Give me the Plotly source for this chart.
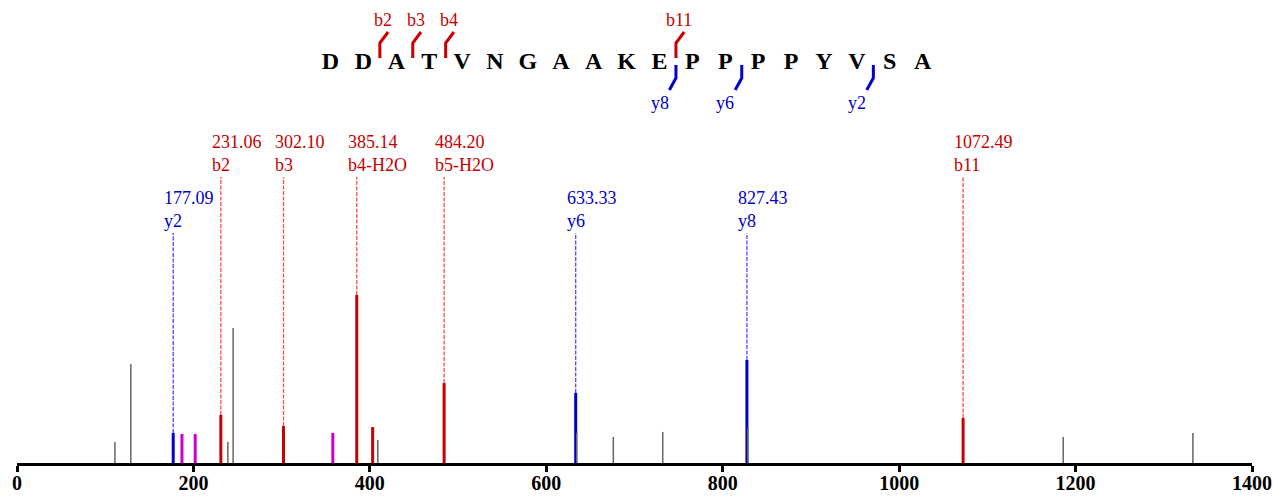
import plotly.graph_objects as go

# ---------------- data ----------------
sequence = list("DDATVNGAAKEPPPPYVSA")

b_mz = [231.06, 302.10, 385.14, 403.15, 484.20, 1072.49]
b_int = [28.6, 22.0, 100.0, 21.4, 47.6, 26.8]
b_lab = ["b2", "b3", "b4-H2O", "", "b5-H2O", "b11"]

y_mz = [177.09, 633.33, 827.43]
y_int = [17.9, 41.7, 61.3]
y_lab = ["y2", "y6", "y8"]

other_mz = [187.0, 202.0, 358.0]
other_int = [17.3, 17.3, 17.9]

noise_mz = [111.0, 129.0, 239.0, 245.0, 409.0, 634.5, 676.0, 732.0, 828.5, 1186.0, 1333.0]
noise_int = [12.5, 58.9, 12.5, 80.4, 13.7, 17.9, 15.5, 18.5, 20.8, 15.5, 17.9]

b_frag = [2, 3, 4, 11]
y_frag = [8, 6, 2]

x_ticks = [0, 200, 400, 600, 800, 1000, 1200, 1400]

# ---------------- style ----------------
RED = "#c80000"
BLUE = "#0000c8"
MAG = "#cc00cc"
GRAY = "#666666"
RED_D = "#ff4a4a"
BLUE_D = "#4a4aff"
FONT = "Liberation Serif, Times New Roman, serif"
Y_MAX = 272.6
B_LEVEL = 170.2
Y_LEVEL = 136.9


def sticks(xs, ys, base=0.0):
    X, Y = [], []
    for x, y in zip(xs, ys):
        X += [x, x, None]
        Y += [base, y, None]
    return X, Y


fig = go.Figure()

# dashed connectors for labelled peaks
X, Y = [], []
for m, i, l in zip(b_mz, b_int, b_lab):
    if l:
        X += [m, m, None]
        Y += [i, B_LEVEL, None]
fig.add_trace(go.Scatter(x=X, y=Y, mode="lines", line=dict(color=RED_D, width=1.3, dash="4px,1.5px"),
                         hoverinfo="skip", showlegend=False))
X, Y = [], []
for m, i in zip(y_mz, y_int):
    X += [m, m, None]
    Y += [i, Y_LEVEL, None]
fig.add_trace(go.Scatter(x=X, y=Y, mode="lines", line=dict(color=BLUE_D, width=1.3, dash="4px,1.5px"),
                         hoverinfo="skip", showlegend=False))

for xs, ys, col, w in [(b_mz, b_int, RED, 3), (y_mz, y_int, BLUE, 3),
                       (other_mz, other_int, MAG, 3), (noise_mz, noise_int, GRAY, 1.5)]:
    X, Y = sticks(xs, ys)
    fig.add_trace(go.Scatter(x=X, y=Y, mode="lines", line=dict(color=col, width=w),
                             hoverinfo="skip", showlegend=False))

annotations = []
for m, l in zip(b_mz, b_lab):
    if l:
        annotations.append(dict(x=m, y=B_LEVEL, xref="x", yref="y", text=f"{m:.2f}<br>{l}",
                                showarrow=False, xanchor="left", yanchor="bottom", align="left",
                                xshift=-11, font=dict(family=FONT, size=18, color=RED)))
for m, l in zip(y_mz, y_lab):
    annotations.append(dict(x=m, y=Y_LEVEL, xref="x", yref="y", text=f"{m:.2f}<br>{l}",
                            showarrow=False, xanchor="left", yanchor="bottom", align="left",
                            xshift=-11, font=dict(family=FONT, size=18, color=BLUE)))

# ---------------- sequence layer (residue index axis) ----------------
n = len(sequence)
fig.add_trace(go.Scatter(x=list(range(n)), y=[0] * n, mode="text", text=sequence,
                         textfont=dict(family=FONT, size=24, color="black", weight="bold"),
                         xaxis="x2", yaxis="y2", hoverinfo="skip", showlegend=False))

X, Y = [], []
for k in b_frag:
    c = k - 0.5
    X += [c, c, c + 0.25, None]
    Y += [0.5, 2.0, 3.1, None]
    annotations.append(dict(x=c + 0.1, y=4.3, xref="x2", yref="y2", text=f"b{k}", showarrow=False,
                            font=dict(family=FONT, size=18, color=RED)))
fig.add_trace(go.Scatter(x=X, y=Y, mode="lines", line=dict(color=RED, width=3),
                         xaxis="x2", yaxis="y2", hoverinfo="skip", showlegend=False))
X, Y = [], []
for k in y_frag:
    c = n - k - 0.5
    X += [c, c, c - 0.2, None]
    Y += [-0.2, -1.5, -2.7, None]
    annotations.append(dict(x=c - 0.5, y=-4.0, xref="x2", yref="y2", text=f"y{k}", showarrow=False,
                            font=dict(family=FONT, size=18, color=BLUE)))
fig.add_trace(go.Scatter(x=X, y=Y, mode="lines", line=dict(color=BLUE, width=3),
                         xaxis="x2", yaxis="y2", hoverinfo="skip", showlegend=False))

fig.update_layout(
    width=1273, height=497,
    margin=dict(l=17, r=21, t=5, b=34, autoexpand=False),
    plot_bgcolor="white", paper_bgcolor="white",
    xaxis=dict(range=[0, 1400], tickvals=x_ticks, ticktext=[str(t) for t in x_ticks],
               showline=True, linecolor="black", linewidth=3, ticks="outside", ticklen=6,
               tickwidth=3, tickcolor="black", showgrid=False, zeroline=False, automargin=False,
               ticklabelstandoff=-6,
               tickfont=dict(family=FONT, size=20, color="black", weight="bold")),
    yaxis=dict(range=[0, Y_MAX], visible=False, showgrid=False, zeroline=False, automargin=False),
    xaxis2=dict(range=[-9.529, 28.009], overlaying="x", visible=False, showgrid=False, automargin=False),
    yaxis2=dict(range=[-40, 5.8], overlaying="y", visible=False, showgrid=False, automargin=False),
    annotations=annotations,
)

fig.write_html("out.html", config={"displayModeBar": False},
               post_script="document.body.style.margin='0px';document.body.style.overflow='hidden';")
